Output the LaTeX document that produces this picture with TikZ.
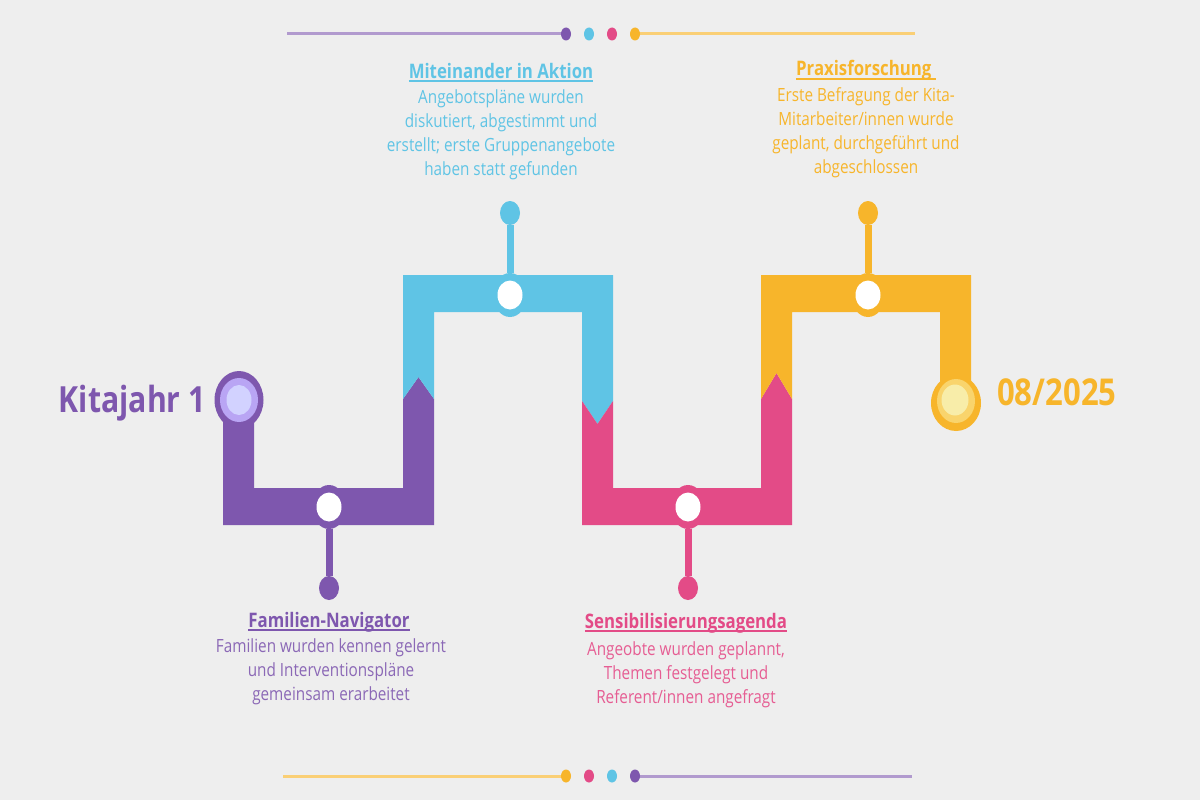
\documentclass[tikz,border=0pt]{standalone}
\usepackage{fontspec}
\setmainfont{Open Sans}[FakeStretch=0.84]
\usepackage{xcolor}
\usepackage{tikz}
\usetikzlibrary{shapes.geometric, positioning}

\definecolor{hgrund}{HTML}{EEEEEE}
\definecolor{lila}{HTML}{7E57AE}
\definecolor{lilamitte}{HTML}{B9A5F4}
\definecolor{lilainnen}{HTML}{D2D2FF}
\definecolor{blau}{HTML}{5FC4E5}
\definecolor{rosa}{HTML}{E34B87}
\definecolor{gelb}{HTML}{F7B52B}
\definecolor{gelbmitte}{HTML}{F9D46C}
\definecolor{gelbinnen}{HTML}{F8EDA9}

\newcommand\unterstr[1]{\setbox0\hbox{#1}\rlap{\rule[-3.5pt]{\wd0}{1.5pt}}\box0}

\tikzset{
    stiel/.style={line width=7pt},
    ring/.style={ellipse, fill=#1, inner sep=0pt, minimum width=34pt, minimum height=44pt},
    kern/.style={ellipse, fill=white, inner sep=0pt, minimum width=25pt, minimum height=29pt},
    punkt/.style={ellipse, fill=#1, inner sep=0pt, minimum width=20pt, minimum height=24pt},
    mini/.style={ellipse, fill=#1, inner sep=0pt, minimum width=10pt, minimum height=13pt},
    titel/.style={font=\fontsize{20}{24}\selectfont\bfseries, text=#1, anchor=base, inner sep=0pt},
    info/.style={font=\fontsize{18.2}{24}\selectfont, text=#1, align=center, anchor=north, inner sep=0pt},
}

\begin{document}
\begin{tikzpicture}[x=1pt, y=-1pt]

    % 0. Hintergrund
    \fill[hgrund] (0,0) rectangle (1200,800);
    \useasboundingbox (0,0) rectangle (1200,800);

    % 1. Zierlinien oben und unten
    \draw[line width=3pt, lila!60] (287,34) -- (566,34);
    \draw[line width=3pt, gelb!65] (635,34) -- (915,34);
    \node[mini=lila] (o1) at (566,34) {};
    \node[mini=blau] (o2) at (589,34) {};
    \node[mini=rosa] (o3) at (612,34) {};
    \node[mini=gelb] (o4) at (635,34) {};

    \draw[line width=3pt, gelb!65] (283,776) -- (566,776);
    \draw[line width=3pt, lila!60] (635,776) -- (912,776);
    \node[mini=gelb] (u1) at (566,776) {};
    \node[mini=rosa] (u2) at (589,776) {};
    \node[mini=blau] (u3) at (612,776) {};
    \node[mini=lila] (u4) at (635,776) {};

    % 2. Der Weg in vier Farben
    \fill[lila]
        (223,400) -- (223,525) -- (434,525) -- (434,399) --
        (418.5,377) -- (403,399) -- (403,488) -- (254,488) --
        (254,400) -- cycle;

    \fill[blau]
        (403,399) -- (403,275) -- (613,275) -- (613,401) --
        (597.5,424) -- (582,401) -- (582,312) -- (434,312) --
        (434,399) -- (418.5,377) -- cycle;

    \fill[rosa]
        (582,401) -- (597.5,424) -- (613,401) -- (613,488) --
        (761,488) -- (761,399) -- (776.5,373) -- (792,399) --
        (792,525) -- (582,525) -- cycle;

    \fill[gelb]
        (761,399) -- (761,275) -- (971,275) -- (971,403) --
        (940,403) -- (940,312) -- (792,312) -- (792,399) --
        (776.5,373) -- cycle;

    % 3. Start und Ziel
    \node[ellipse, fill=lila, inner sep=0pt, minimum width=49pt, minimum height=58pt]
        (start) at (239,400) {};
    \node[ellipse, fill=lilamitte, inner sep=0pt, minimum width=38pt, minimum height=44pt]
        at (start) {};
    \node[ellipse, fill=lilainnen, inner sep=0pt, minimum width=25pt, minimum height=30pt]
        at (start) {};

    \node[ellipse, fill=gelb, inner sep=0pt, minimum width=50pt, minimum height=56pt]
        (ziel) at (956,403) {};
    \node[ellipse, fill=gelbmitte, inner sep=0pt, minimum width=38pt, minimum height=44pt]
        at (956,401) {};
    \node[ellipse, fill=gelbinnen, inner sep=0pt, minimum width=27pt, minimum height=31pt]
        at (955,400) {};

    \node[font=\fontsize{36}{36}\selectfont\bfseries, text=lila, anchor=base east, inner sep=0pt]
        (kita) at (206,412) {Kitajahr 1};
    \node[font=\fontsize{37}{37}\selectfont\bfseries, text=gelb, anchor=base west, inner sep=0pt]
        (datum) at (997,405) {08/2025};

    % 4. Meilensteine mit Stiel und Punkt
    \node[ring=lila] (m1) at (329,507) {};
    \node[punkt=lila] (p1) at (329,588) {};
    \node[ring=blau] (m2) at (510,295) {};
    \node[punkt=blau] (p2) at (510,213) {};
    \node[ring=rosa] (m3) at (688,507) {};
    \node[punkt=rosa] (p3) at (688,588) {};
    \node[ring=gelb] (m4) at (868,295) {};
    \node[punkt=gelb] (p4) at (868,213) {};

    \draw[stiel, lila] (m1) -- (p1);
    \draw[stiel, blau] (m2) -- (p2);
    \draw[stiel, rosa] (m3) -- (p3);
    \draw[stiel, gelb] (m4) -- (p4);

    \node[kern] (k1) at (m1) {};
    \node[kern] (k2) at (m2) {};
    \node[kern] (k3) at (m3) {};
    \node[kern] (k4) at (m4) {};

    % 5. Texte zu den Meilensteinen
    \node[titel=lila] (t1) at (329,627) {\unterstr{Familien-Navigator}};
    \node[info=lila!90] (b1) at (331,638.5)
        {Familien wurden kennen gelernt\\
         und Interventionspläne\\
         gemeinsam erarbeitet};

    \node[titel=blau] (t2) at (501,78) {\unterstr{Miteinander in Aktion}};
    \node[info=blau] (b2) at (501,89.5)
        {Angebotspläne wurden\\
         diskutiert, abgestimmt und\\
         erstellt; erste Gruppenangebote\\
         haben statt gefunden};

    \node[titel=rosa] (t3) at (686,628) {\unterstr{Sensibilisierungsagenda}};
    \node[info=rosa!90] (b3) at (686,641.5)
        {Angeobte wurden geplannt,\\
         Themen festgelegt und\\
         Referent/innen angefragt};

    \node[titel=gelb] (t4) at (866,76) {\unterstr{Praxisforschung\ }};
    \node[info=gelb] (b4) at (866,87.5)
        {Erste Befragung der Kita-\\
         Mitarbeiter/innen wurde\\
         geplant, durchgeführt und\\
         abgeschlossen};

\end{tikzpicture}
\end{document}
